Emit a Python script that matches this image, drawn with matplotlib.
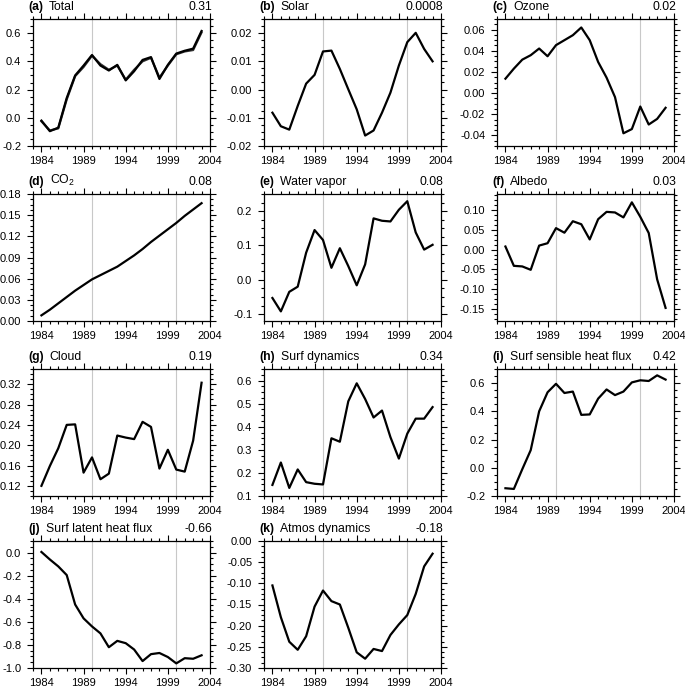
import matplotlib
matplotlib.use('Agg')
import matplotlib.pyplot as plt
from matplotlib.ticker import MultipleLocator, AutoMinorLocator, FormatStrFormatter
from matplotlib.transforms import offset_copy

plt.rcParams['font.family'] = ['Liberation Sans', 'DejaVu Sans']
plt.rcParams['axes.unicode_minus'] = False
plt.rcParams['mathtext.fontset'] = 'custom'
plt.rcParams['mathtext.rm'] = 'Liberation Sans'

years = list(range(1984, 2004))

total = [-0.02, -0.095, -0.07, 0.14, 0.30, 0.37, 0.445, 0.37, 0.335, 0.375,
         0.265, 0.33, 0.41, 0.43, 0.275, 0.375, 0.455, 0.475, 0.49, 0.615]
total_sum = [-0.025, -0.09, -0.075, 0.13, 0.295, 0.36, 0.44, 0.38, 0.34, 0.37,
             0.27, 0.34, 0.40, 0.425, 0.285, 0.37, 0.45, 0.47, 0.48, 0.605]
solar = [-0.0082, -0.013, -0.0142, -0.0058, 0.0021, 0.0052, 0.0135, 0.0138, 0.0073, 0.0001,
         -0.0070, -0.0163, -0.0145, -0.0082, -0.0011, 0.0085, 0.0168, 0.0201, 0.0144, 0.0100]
ozone = [0.0136, 0.0231, 0.0316, 0.0358, 0.0421, 0.0348, 0.0453, 0.050, 0.0547, 0.062,
         0.050, 0.0294, 0.0146, -0.0038, -0.038, -0.034, -0.0127, -0.0297, -0.0244, -0.0139]
co2 = [0.008, 0.016, 0.025, 0.034, 0.043, 0.051, 0.059, 0.065, 0.071, 0.077,
       0.085, 0.093, 0.102, 0.112, 0.121, 0.130, 0.139, 0.149, 0.158, 0.167]
water_vapor = [-0.053, -0.092, -0.035, -0.020, 0.079, 0.145, 0.116, 0.035, 0.092, 0.040,
               -0.016, 0.045, 0.179, 0.172, 0.170, 0.204, 0.229, 0.138, 0.088, 0.102]
albedo = [0.0077, -0.041, -0.0425, -0.051, 0.010, 0.016, 0.054, 0.0425, 0.0714, 0.0638,
          0.0255, 0.0765, 0.095, 0.0935, 0.081, 0.119, 0.0825, 0.0417, -0.075, -0.147]
cloud = [0.12, 0.159, 0.194, 0.24, 0.241, 0.146, 0.176, 0.133, 0.144, 0.219,
         0.215, 0.212, 0.246, 0.236, 0.154, 0.191, 0.152, 0.148, 0.209, 0.323]
surf_dyn = [0.148, 0.245, 0.135, 0.215, 0.16, 0.153, 0.150, 0.35, 0.335, 0.51,
            0.588, 0.52, 0.44, 0.47, 0.355, 0.262, 0.37, 0.435, 0.435, 0.485]
sensible = [-0.145, -0.15, -0.01, 0.125, 0.40, 0.535, 0.595, 0.53, 0.54, 0.375,
            0.378, 0.49, 0.555, 0.515, 0.54, 0.605, 0.62, 0.615, 0.655, 0.625]
latent = [0.005, -0.06, -0.12, -0.195, -0.45, -0.57, -0.64, -0.70, -0.82, -0.765,
          -0.785, -0.84, -0.94, -0.88, -0.87, -0.905, -0.96, -0.915, -0.92, -0.89]
atmos_dyn = [-0.105, -0.18, -0.238, -0.257, -0.225, -0.155, -0.117, -0.142, -0.150, -0.205,
             -0.263, -0.278, -0.255, -0.26, -0.222, -0.197, -0.175, -0.125, -0.06, -0.03]

letters = ['a', 'b', 'c', 'd', 'e', 'f', 'g', 'h', 'i', 'j', 'k']
names = ['Total', 'Solar', 'Ozone', r'CO$_\mathregular{2}$', 'Water vapor', 'Albedo',
         'Cloud', 'Surf dynamics', 'Surf sensible heat flux', 'Surf latent heat flux',
         'Atmos dynamics']
trends = ['0.31', '0.0008', '0.02', '0.08', '0.08', '0.03', '0.19', '0.34', '0.42',
          '-0.66', '-0.18']
series = [total, solar, ozone, co2, water_vapor, albedo, cloud, surf_dyn, sensible,
          latent, atmos_dyn]
ylims = [(-0.2, 0.7), (-0.02, 0.025), (-0.05, 0.07), (0.0, 0.18), (-0.12, 0.25),
         (-0.18, 0.14), (0.10, 0.35), (0.1, 0.65), (-0.2, 0.7), (-1.0, 0.1), (-0.3, 0.0)]
ysteps = [0.2, 0.01, 0.02, 0.03, 0.1, 0.05, 0.04, 0.1, 0.2, 0.2, 0.05]
yfmts = ['%.1f', '%.2f', '%.2f', '%.2f', '%.1f', '%.2f', '%.2f', '%.1f', '%.1f', '%.1f', '%.2f']

W, H = 685, 690
fig = plt.figure(figsize=(W / 100, H / 100), dpi=100)
renderer = fig.canvas.get_renderer()

col_left = [33, 264, 497]
row_top = [19, 194, 369, 541]
aw, ah = 177, 127

for i in range(len(series)):
    r, c = divmod(i, 3)
    l, t = col_left[c], row_top[r]
    ax = fig.add_axes([l / W, 1 - (t + ah) / H, aw / W, ah / H])
    for yr in (1990, 2000):
        ax.axvline(yr, color='#c8c8c8', lw=0.8, zorder=1)
    if i == 0:
        ax.plot(years, total_sum, color='#333333', lw=1.6, zorder=2)
    ax.plot(years, series[i], color='black', lw=1.6, zorder=3)
    ax.set_xlim(1983, 2004)
    ax.set_ylim(*ylims[i])
    ax.yaxis.set_major_locator(MultipleLocator(ysteps[i]))
    ax.yaxis.set_minor_locator(AutoMinorLocator(4))
    ax.yaxis.set_major_formatter(FormatStrFormatter(yfmts[i]))
    ax.set_xticks([1984, 1989, 1994, 1999, 2004])
    ax.xaxis.set_minor_locator(MultipleLocator(1))
    ax.tick_params(which='both', direction='out', top=True, right=True,
                   labelsize=8, width=0.8)
    ax.tick_params(which='major', length=4)
    ax.tick_params(which='minor', length=2)
    ax.tick_params(axis='x', pad=3.5)
    ax.tick_params(axis='y', pad=4.5)
    for s in ax.spines.values():
        s.set_linewidth(0.9)
    lt = ax.text(-5 / aw, 1.045, '(%s)' % letters[i], transform=ax.transAxes,
                 fontsize=8.8, fontweight='bold', ha='left', va='bottom')
    bb = lt.get_window_extent(renderer=renderer)
    name_tr = offset_copy(ax.transAxes, fig=fig, x=bb.width + 6 - 5, units='dots')
    ax.text(0, 1.045, names[i], transform=name_tr, fontsize=8.8,
            ha='left', va='bottom')
    ax.text(1.0 + 2 / aw, 1.045, trends[i], transform=ax.transAxes, fontsize=8.8,
            ha='right', va='bottom')

fig.savefig('out.png', dpi=100)
